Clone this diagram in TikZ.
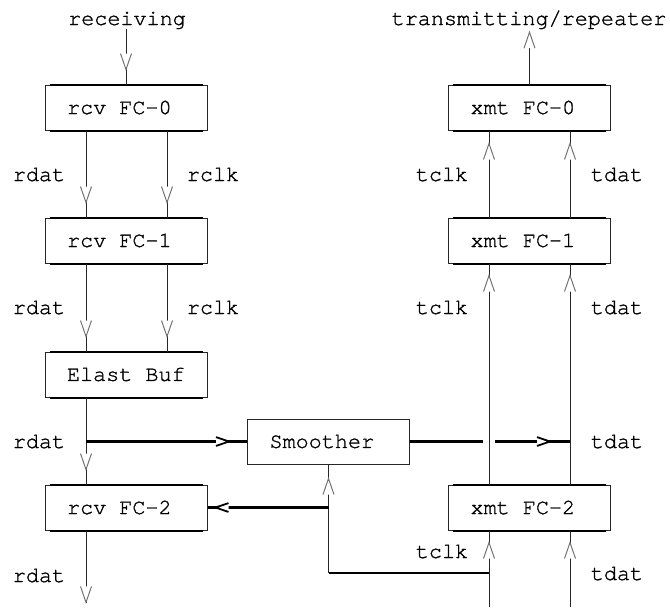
\documentclass[tikz,border=0pt]{standalone}
\usepackage{fontspec}
\newfontfamily\courier[FakeBold=1.2]{texgyrecursor-regular.otf}
\usetikzlibrary{decorations.markings}

% one full character cell of the typewriter face
\newcommand\cell{\hspace*{0.6em}}

\tikzset{
  wire/.style={draw=black!85, line width=0.5pt},
  bus/.style={draw=black, line width=1.1pt},
  % open chevron placed #1 before the end of a vertical line
  vhead/.style={postaction={decorate}, decoration={markings,
      mark=at position -#1 with {
        \fill[white] (0pt,0pt) -- (-8pt,2.75pt) -- (-8pt,-2.75pt) -- cycle;
        \draw[black!55, line width=0.5pt, line join=miter] (-8pt,2.75pt) -- (0pt,0pt) -- (-8pt,-2.75pt);}}},
  % smaller, heavier chevron for the horizontal buses
  hhead/.style={postaction={decorate}, decoration={markings,
      mark=at position -#1 with {
        \fill[white] (0pt,0pt) -- (-6.5pt,2.2pt) -- (-6.5pt,-2.2pt) -- cycle;
        \draw[black, line width=0.9pt] (-6.5pt,2.2pt) -- (0pt,0pt) -- (-6.5pt,-2.2pt);}}},
  box/.style={draw=black!85, line width=0.5pt, inner xsep=11pt, inner ysep=0pt,
      text width=59pt, align=left, minimum height=22.5pt},
  lab/.style={inner sep=0pt, anchor=base},
}

\begin{document}
\begin{tikzpicture}[x=0.5pt, y=-0.5pt, font={\courier\fontsize{10.9}{13}\selectfont}]
\useasboundingbox (0,0) rectangle (670,607);

% blocks
\node[box] (r0) at (126,107.5) {rcv\cell FC-0};
\node[box] (r1) at (126,240.5) {rcv\cell FC-1};
\node[box] (eb) at (126,374.5) {Elast\cell Buf};
\node[box] (r2) at (126,507.5) {rcv\cell FC-2};
\node[box] (x0) at (529.5,107.5) {xmt\cell FC-0};
\node[box] (x1) at (529.5,240.5) {xmt\cell FC-1};
\node[box] (x2) at (529.5,507.5) {xmt\cell FC-2};
\node[box] (sm) at (328.5,441.5) {Smoother};

% heavier top and bottom edges of the FC blocks
\foreach \n in {r0,r1,eb,r2,x0,x1,x2}{
  \draw[black, line width=1pt] ([xshift=2.5pt]\n.north west) -- ([xshift=-2.5pt]\n.north east);
  \draw[black, line width=1pt] ([xshift=2.5pt]\n.south west) -- ([xshift=-2.5pt]\n.south east);
}

% titles
\node[lab] (recv) at (127,25) {receiving};
\node[lab] (xmit) at (529,25) {transmitting/repeater};

% signal names
\node[lab] at (39,181) {rdat};
\node[lab] at (213,181) {rclk};
\node[lab] at (442,181) {tclk};
\node[lab] at (617,181) {tdat};
\node[lab] at (39,314) {rdat};
\node[lab] at (213,314) {rclk};
\node[lab] at (442,314) {tclk};
\node[lab] at (617,314) {tdat};
\node[lab] at (39,448) {rdat};
\node[lab] at (617,448) {tdat};
\node[lab] at (39,582) {rdat};
\node[lab] at (442,558) {tclk};
\node[lab] at (617,580) {tdat};

% signal columns and free ends
\coordinate (cA) at (86,0);
\coordinate (cB) at (167,0);
\coordinate (cC) at (489,0);
\coordinate (cD) at (570,0);
\coordinate (rout) at (86,603);
\coordinate (xout) at (529.5,32);
\coordinate (tclkin) at (489,607);
\coordinate (tdatin) at (570,607);
\coordinate (fbtap) at (489,573);
\coordinate (fbcorner) at (sm.south |- fbtap);
\coordinate (fbsplit) at (sm.south |- r2.east);
\coordinate (rsplit) at (cA |- sm.west);
\coordinate (hop) at (cC |- sm.east);
\coordinate (tjoin) at (cD |- sm.east);

% receive chain
\draw[wire, vhead=7.5pt] (r0.north |- recv.south) -- (r0.north);
\draw[wire, vhead=7.5pt] (r0.south -| cA) -- (r1.north -| cA);
\draw[wire, vhead=7.5pt] (r0.south -| cB) -- (r1.north -| cB);
\draw[wire, vhead=7.5pt] (r1.south -| cA) -- (eb.north -| cA);
\draw[wire, vhead=7.5pt] (r1.south -| cB) -- (eb.north -| cB);
\draw[wire, vhead=7.5pt] (eb.south -| cA) -- (r2.north -| cA);
\draw[wire, vhead=0.3pt] (r2.south -| cA) -- (rout);

% transmit chain
\draw[wire, vhead=0.1pt] (x0.north) -- (xout);
\draw[wire, vhead=6.5pt] (x1.north -| cC) -- (x0.south -| cC);
\draw[wire, vhead=6.5pt] (x1.north -| cD) -- (x0.south -| cD);
\draw[wire, vhead=6pt] (x2.north -| cC) -- (x1.south -| cC);
\draw[wire, vhead=6pt] (x2.north -| cD) -- (x1.south -| cD);
\draw[wire, vhead=6pt] (tclkin) -- (x2.south -| cC);
\draw[wire, vhead=6pt] (tdatin) -- (x2.south -| cD);

% smoother data path
\draw[bus, hhead=9pt] (rsplit) -- (sm.west);
\draw[bus] (sm.east) -- ([xshift=-3pt]hop);
\draw[bus, hhead=10pt] ([xshift=3pt]hop) -- (tjoin);

% clock feedback
\draw[bus] (fbtap) -- (fbcorner);
\draw[wire, vhead=7pt] (fbcorner) -- (sm.south);
\draw[bus, hhead=4pt] (fbsplit) -- (r2.east);
\end{tikzpicture}
\end{document}
